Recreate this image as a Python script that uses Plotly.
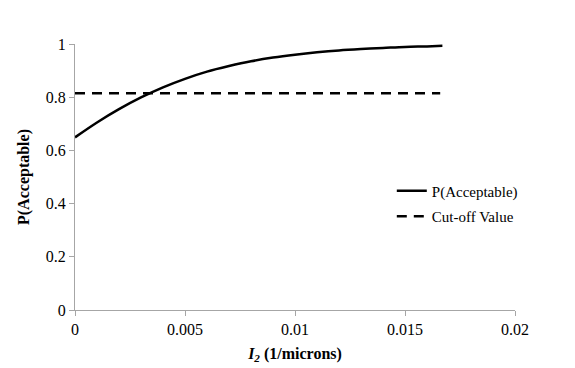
import plotly.graph_objects as go

x_vals = [0, 0.001, 0.002, 0.003, 0.004, 0.005, 0.006, 0.007, 0.008, 0.009,
          0.010, 0.011, 0.012, 0.013, 0.014, 0.015, 0.016, 0.0167]
p_acceptable = [0.649, 0.705, 0.755, 0.799, 0.837, 0.869, 0.896, 0.917, 0.935, 0.949,
                0.960, 0.969, 0.976, 0.981, 0.985, 0.989, 0.991, 0.993]
cutoff_x = [0, 0.0166]
cutoff_y = [0.815, 0.815]

font_family = "Liberation Serif"

fig = go.Figure()
fig.add_trace(go.Scatter(x=x_vals, y=p_acceptable, mode="lines", name="P(Acceptable)",
                         legendgroup="a",
                         line=dict(color="black", width=2.5, shape="spline")))
fig.add_trace(go.Scatter(x=cutoff_x, y=cutoff_y, mode="lines", name="Cut-off Value",
                         legendgroup="b",
                         line=dict(color="black", width=2.5, dash="10px,7px")))

fig.update_layout(
    width=575, height=368,
    margin=dict(l=67, r=68, t=36, b=66),
    paper_bgcolor="white", plot_bgcolor="white",
    font=dict(family=font_family, size=16, color="black"),
    showlegend=True,
    legend=dict(x=0.72, y=0.40, xanchor="left", yanchor="middle",
                bgcolor="rgba(0,0,0,0)", font=dict(family=font_family, size=15),
                traceorder="grouped", tracegroupgap=3),
    xaxis=dict(range=[0, 0.02], dtick=0.005, tick0=0, showgrid=False, zeroline=False,
               showline=True, linecolor="#a6a6a6", linewidth=1,
               ticks="outside", ticklen=5, tickcolor="#a6a6a6",
               tickfont=dict(family=font_family, size=16),
               title=dict(text="<b><i>I<sub>2</sub></i> (1/microns)</b>",
                          font=dict(family=font_family, size=16), standoff=10)),
    yaxis=dict(range=[0, 1], dtick=0.2, tick0=0, showgrid=False, zeroline=False,
               showline=True, linecolor="#a6a6a6", linewidth=1,
               ticks="outside", ticklen=5, tickcolor="#a6a6a6",
               tickfont=dict(family=font_family, size=16),
               title=dict(text="<b>P(Acceptable)</b>",
                          font=dict(family=font_family, size=16), standoff=12)),
)

fig.write_html("out.html")
